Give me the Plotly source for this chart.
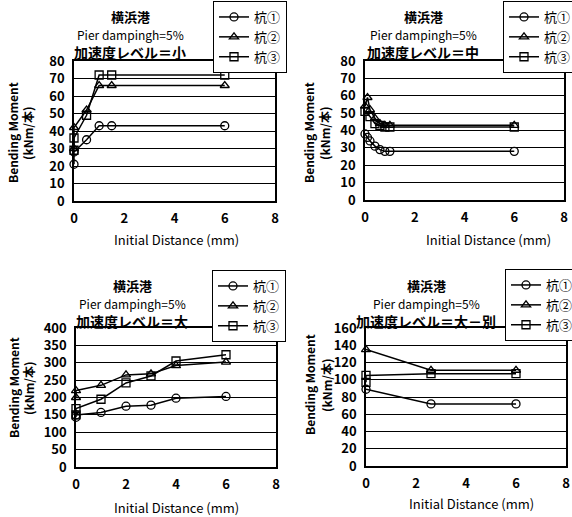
import plotly.graph_objects as go

W, H = 572, 517

series_names = ["杭①", "杭②", "杭③"]
symbols = ["circle-open", "triangle-up-open", "square-open"]

# Panel 1: 加速度レベル＝小
p1_x1 = [0, 0, 0.5, 1, 1.5, 6]
p1_y1 = [21, 28, 35, 43, 43, 43]
p1_x2 = [0, 0, 0.5, 1, 1.5, 6]
p1_y2 = [30, 42, 52, 66, 66, 66]
p1_x3 = [0, 0, 0.5, 1, 1.5, 6]
p1_y3 = [29, 36, 49, 72, 72, 72]

# Panel 2: 加速度レベル＝中
p2_x1 = [0, 0.1, 0.2, 0.4, 0.6, 0.8, 1, 6]
p2_y1 = [38, 36, 34, 31, 29, 28, 28, 28]
p2_x2 = [0, 0.1, 0.2, 0.4, 0.6, 0.8, 1, 6]
p2_y2 = [54, 59, 52, 47, 44, 43, 43, 43]
p2_x3 = [0, 0.2, 0.4, 0.6, 0.8, 1, 6]
p2_y3 = [51, 48, 44, 43, 42, 42, 42]

# Panel 3: 加速度レベル＝大
p3_x1 = [0, 0, 1, 2, 3, 4, 6]
p3_y1 = [143, 150, 157, 175, 178, 198, 203]
p3_x2 = [0, 0, 1, 2, 3, 4, 6]
p3_y2 = [200, 220, 235, 265, 268, 292, 302]
p3_x3 = [0, 0, 1, 2, 3, 4, 6]
p3_y3 = [150, 168, 195, 242, 262, 305, 323]

# Panel 4: 加速度レベル＝大－別
p4_x1 = [0, 2.6, 6]
p4_y1 = [89, 72, 72]
p4_x2 = [0, 2.6, 6]
p4_y2 = [135, 111, 111]
p4_x3 = [0, 0, 2.6, 6]
p4_y3 = [97, 105, 107, 107]

panel_titles = ["加速度レベル＝小", "加速度レベル＝中", "加速度レベル＝大", "加速度レベル＝大－別"]
y_ranges = [(0, 80, 10), (0, 80, 10), (0, 400, 50), (0, 160, 20)]
x_ticks = [0, 2, 4, 6, 8]

panels = [
    [(p1_x1, p1_y1), (p1_x2, p1_y2), (p1_x3, p1_y3)],
    [(p2_x1, p2_y1), (p2_x2, p2_y2), (p2_x3, p2_y3)],
    [(p3_x1, p3_y1), (p3_x2, p3_y2), (p3_x3, p3_y3)],
    [(p4_x1, p4_y1), (p4_x2, p4_y2), (p4_x3, p4_y3)],
]

# pixel layout of plot areas: (left, right, top, bottom)
boxes = [(74, 275, 61, 201), (365, 564, 61, 200), (76, 276, 328, 467), (366, 566, 328, 466)]
legend_pos = [(213, 1), (503, 1), (212, 270), (505, 269)]
title_pos = [(130, 16), (423, 16), (132, 285), (426, 285)]
ytitle_pos = [(12, 27, 133), (308, 324, 133), (13, 28, 388), (309, 326, 385)]
xtitle_pos = [(176, 240), (488, 239), (176, 507), (471, 503)]

FONT = "Noto Sans CJK JP"

def px(x):
    return x / W

def py(y):
    return 1 - y / H

fig = go.Figure()
annotations = []
layout = {}

for i, data in enumerate(panels):
    k = "" if i == 0 else str(i + 1)
    leg = "legend" if i == 0 else f"legend{i + 1}"
    for j, (xs, ys) in enumerate(data):
        fig.add_trace(go.Scatter(
            x=xs, y=ys, mode="lines+markers", name=series_names[j],
            xaxis="x" + k, yaxis="y" + k, legend=leg,
            line=dict(color="black", width=1.5),
            marker=dict(symbol=symbols[j], size=8, color="black", line=dict(width=1.3, color="black")),
            cliponaxis=False,
        ))
    l, r, t, b = boxes[i]
    y0, y1, dt = y_ranges[i]
    layout["xaxis" + k] = dict(
        domain=[px(l), px(r)], anchor="y" + k, range=[0, 8], tickvals=x_ticks,
        showgrid=False, zeroline=False, showline=True, linecolor="black", linewidth=1.5, mirror=True,
        ticks="", tickfont=dict(family=FONT, size=13, color="black", weight="bold"),
        ticklabelstandoff=5,
    )
    layout["yaxis" + k] = dict(
        domain=[py(b), py(t)], anchor="x" + k, range=[y0, y1], dtick=dt,
        showgrid=True, gridcolor="black", gridwidth=1, zeroline=False,
        showline=True, linecolor="black", linewidth=1.5, mirror=True,
        ticks="", tickfont=dict(family=FONT, size=13, color="black", weight="bold"),
        ticklabelstandoff=5,
    )
    lx, ly = legend_pos[i]
    layout[leg] = dict(
        x=px(lx), y=py(ly), xanchor="left", yanchor="top", xref="paper", yref="paper",
        bgcolor="white", bordercolor="black", borderwidth=1,
        font=dict(family=FONT, size=13, color="black"),
        itemwidth=30, tracegroupgap=0,
    )
    tx, ty = title_pos[i]
    for n, (txt, sz, wt) in enumerate([("横浜港", 13, "bold"), ("Pier dampingh=5%", 12, "normal"), (panel_titles[i], 14, "bold")]):
        annotations.append(dict(
            x=px(tx), y=py(ty + n * 18), xref="paper", yref="paper", text=txt, showarrow=False,
            xanchor="center", yanchor="middle", font=dict(family=FONT, size=sz, color="black", weight=wt),
        ))
    a1, a2, ay = ytitle_pos[i]
    annotations.append(dict(x=px(a1), y=py(ay), xref="paper", yref="paper", text="Bending Moment",
                            showarrow=False, textangle=-90, xanchor="center", yanchor="middle",
                            font=dict(family=FONT, size=12, color="black", weight="bold")))
    annotations.append(dict(x=px(a2), y=py(ay), xref="paper", yref="paper", text="(kNm/本)",
                            showarrow=False, textangle=-90, xanchor="center", yanchor="middle",
                            font=dict(family=FONT, size=12, color="black", weight="bold")))
    xx, xy = xtitle_pos[i]
    annotations.append(dict(x=px(xx), y=py(xy), xref="paper", yref="paper", text="Initial Distance (mm)",
                            showarrow=False, xanchor="center", yanchor="middle",
                            font=dict(family=FONT, size=13, color="black")))

fig.update_layout(
    width=W, height=H, margin=dict(l=0, r=0, t=0, b=0, autoexpand=False),
    paper_bgcolor="white", plot_bgcolor="white", showlegend=True,
    annotations=annotations, **layout,
)

fig.write_html("out.html", config={"displayModeBar": False},
               post_script="document.body.style.margin='0';document.body.style.overflow='hidden';")
